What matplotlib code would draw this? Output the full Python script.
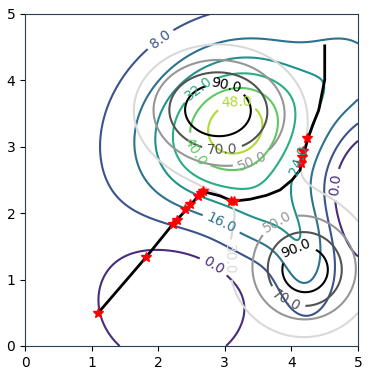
import numpy as np
import matplotlib
matplotlib.use("Agg")
import matplotlib.pyplot as plt
from matplotlib.colors import Normalize

# grey surface: two peaks, each a narrow + broad bump
grey_amp = [70, 40, 70, 36]
grey_cx = [2.87, 2.95, 4.22, 4.10]
grey_cy = [3.58, 3.50, 1.13, 1.25]
grey_sx = [0.65, 1.05, 0.50, 1.15]
grey_sy = [0.50, 0.85, 0.50, 1.05]
grey_rot = [0, 0, 0, 0]
grey_levels = [30, 50, 70, 90]
grey_colors = ["#d9d9d9", "#969696", "#525252", "#000000"]

# coloured surface (tilted main hill, ridge, tongue, dips)
col_base = 4.0
col_amp = [6, 46, 12, 14, 12, -12, -30]
col_cx = [3.22, 3.12, 4.90, 4.20, 3.70, 2.22, 5.25]
col_cy = [3.30, 3.28, 4.20, 1.30, 1.90, 0.72, 2.35]
col_sx = [0.30, 0.94, 0.50, 0.30, 0.50, 0.76, 0.40]
col_sy = [0.30, 0.78, 0.55, 0.55, 0.45, 0.69, 0.55]
col_rot = [0, 30, 0, 0, 0, 0, 0]
col_levels = [0, 8, 16, 24, 32, 40, 48]

# path
path_x = [1.10, 1.82, 2.24, 2.28, 2.43, 2.51, 2.60, 2.66, 2.70, 2.93, 3.12, 3.38,
          3.63, 3.83, 4.01, 4.13, 4.16, 4.25, 4.32, 4.41, 4.46, 4.50, 4.50, 4.50]
path_y = [0.50, 1.34, 1.86, 1.90, 2.06, 2.15, 2.26, 2.30, 2.32, 2.26, 2.18, 2.21,
          2.27, 2.35, 2.50, 2.65, 2.80, 3.13, 3.33, 3.55, 3.81, 4.01, 4.31, 4.52]
star_x = [1.10, 1.82, 2.22, 2.28, 2.40, 2.48, 2.60, 2.64, 2.67, 3.10, 3.14,
          4.14, 4.16, 4.17, 4.23]
star_y = [0.50, 1.34, 1.84, 1.90, 2.06, 2.14, 2.26, 2.30, 2.33, 2.19, 2.19,
          2.75, 2.84, 2.93, 3.13]

# label positions
col_label_pos = [(2.03, 4.62), (2.6, 3.9), (3.18, 3.6), (2.6, 2.95),
                 (2.96, 1.87), (4.13, 2.78), (2.8, 1.15), (4.78, 2.42)]
grey_label_pos = [(3.0, 3.84), (2.96, 2.92), (3.45, 2.71), (4.08, 1.45),
                  (3.9, 0.65), (3.78, 1.9), (3.03, 1.3)]


def bumps(X, Y, amp, cx, cy, sx, sy, rot):
    Z = np.zeros_like(X)
    for a, x0, y0, s_u, s_v, th in zip(amp, cx, cy, sx, sy, rot):
        t = np.deg2rad(th)
        u = (X - x0) * np.cos(t) + (Y - y0) * np.sin(t)
        v = -(X - x0) * np.sin(t) + (Y - y0) * np.cos(t)
        Z += a * np.exp(-(u ** 2 / (2 * s_u ** 2) + v ** 2 / (2 * s_v ** 2)))
    return Z


x = np.linspace(0, 5, 300)
y = np.linspace(0, 5, 300)
X, Y = np.meshgrid(x, y)
G = bumps(X, Y, grey_amp, grey_cx, grey_cy, grey_sx, grey_sy, grey_rot)
C = col_base + bumps(X, Y, col_amp, col_cx, col_cy, col_sx, col_sy, col_rot)

fig = plt.figure(figsize=(3.71, 3.76), dpi=100)
ax = fig.add_axes([0.0674, 0.0798, 0.8976, 0.8830])

cs1 = ax.contour(X, Y, C, levels=col_levels, cmap="viridis", norm=Normalize(-8, 56))
cs2 = ax.contour(X, Y, G, levels=grey_levels, colors=grey_colors)
ax.clabel(cs1, fmt="%.1f", fontsize=10, manual=col_label_pos)
ax.clabel(cs2, fmt="%.1f", fontsize=10, manual=grey_label_pos)

ax.plot(path_x, path_y, color="k", lw=2)
ax.plot(star_x, star_y, "r*", ms=7, ls="none")

ax.set_xlim(0, 5)
ax.set_ylim(0, 5)
for s in ax.spines.values():
    s.set_color("#263e5a")

fig.savefig("out.png", dpi=100)
